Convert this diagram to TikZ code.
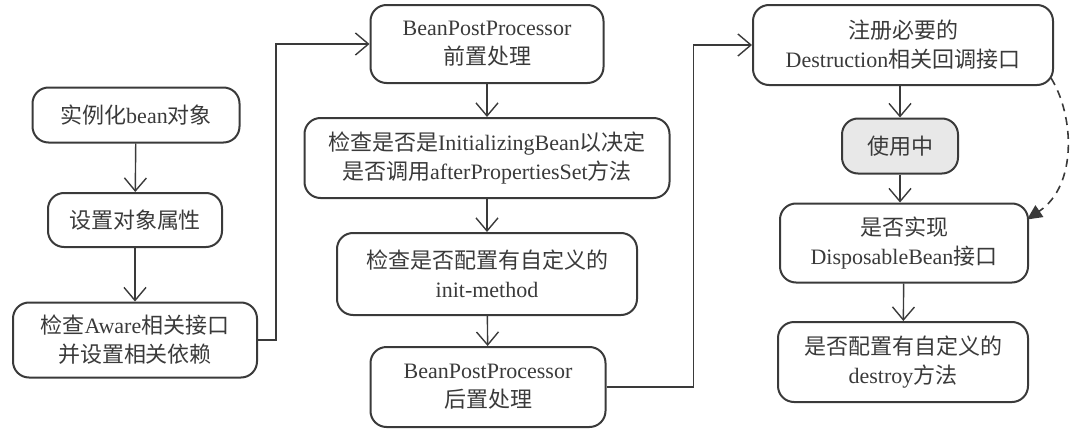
\documentclass[tikz,border=0pt]{standalone}
\usepackage{fontspec}
\setmainfont{Liberation Serif}
\newfontfamily\cjk{Noto Sans CJK SC}
\newcommand\zh[1]{{\cjk #1}}
\usetikzlibrary{arrows.meta,calc}
\definecolor{ink}{HTML}{3A3A3A}
\begin{document}
\begin{tikzpicture}[x=1pt,y=-1pt,
  box/.style={draw=ink,line width=2pt,rounded corners=16pt,align=center,
    text=ink,inner sep=0pt,font=\fontsize{22}{29}\selectfont},
  flow/.style={draw=ink,line width=1.4pt,-{Straight Barb[length=13pt,width=22pt,line width=1.4pt]}},
  dashflow/.style={draw=ink,line width=1.6pt,dash pattern=on 8pt off 6pt,-{Triangle[length=15pt,width=14pt]}}]
\useasboundingbox (0,0) rectangle (1080,447);
% column 1
\node[box,minimum width=207pt,minimum height=55pt] (n1) at (136,115) {\zh{实例化}bean\zh{对象}};
\node[box,minimum width=174pt,minimum height=54pt] (n2) at (135,220) {\zh{设置对象属性}};
\node[box,minimum width=244pt,minimum height=75pt] (n3) at (135,340) {\zh{检查}Aware\zh{相关接口}\\\zh{并设置相关依赖}};
% column 2
\node[box,minimum width=233pt,minimum height=78pt] (p1) at (487,44) {BeanPostProcessor\\\zh{前置处理}};
\node[box,minimum width=365pt,minimum height=80pt] (p2) at (487,158) {\zh{检查是否是}InitializingBean\zh{以决定}\\\zh{是否调用}afterPropertiesSet\zh{方法}};
\node[box,minimum width=300pt,minimum height=82pt] (p3) at (487,274) {\zh{检查是否配置有自定义的}\\init-method};
\node[box,minimum width=235pt,minimum height=80pt] (p4) at (488,387) {BeanPostProcessor\\\zh{后置处理}};
% column 3
\node[box,minimum width=300pt,minimum height=80pt] (d1) at (903,45) {\zh{注册必要的}\\Destruction\zh{相关回调接口}};
\node[box,minimum width=116pt,minimum height=55pt,fill=gray!18] (d2) at (900,146) {\zh{使用中}};
\node[box,minimum width=248pt,minimum height=79pt] (d3) at (904,243) {\zh{是否实现}\\DisposableBean\zh{接口}};
\node[box,minimum width=250pt,minimum height=80pt] (d4) at (903,362) {\zh{是否配置有自定义的}\\destroy\zh{方法}};
% connectors
\draw[flow] (n1) -- (n2);
\draw[flow] (n2) -- (n3);
\draw[flow] (n3.east) -- ++(18,0) |- (p1.west);
\draw[flow] (p1) -- (p2);
\draw[flow] (p2) -- (p3);
\draw[flow] (p3) -- (p4);
\draw[flow] (p4.east) -- ++(87,0) |- (d1.west);
\draw[flow] (d1.south -| d2) -- (d2);
\draw[flow] (d2) -- (d2 |- d3.north);
\draw[flow] (d3) -- (d4);
\coordinate (ds) at ($(d1.south east)+(-3,-8)$);
\coordinate (de) at ($(d3.north east)+(-2,17)$);
\draw[dashflow] (ds) .. controls (1074,115) and (1078,185) .. (de);
\end{tikzpicture}
\end{document}
